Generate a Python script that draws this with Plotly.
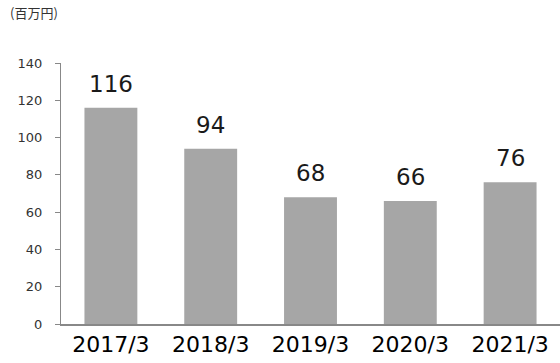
import plotly.graph_objects as go

categories = ["2017/3", "2018/3", "2019/3", "2020/3", "2021/3"]
values = [116, 94, 68, 66, 76]
y_ticks = [0, 20, 40, 60, 80, 100, 120, 140]
unit_label = "(百万円)"

font_family = "DejaVu Sans, Noto Sans CJK JP, sans-serif"

fig = go.Figure(go.Bar(
    x=categories, y=values,
    marker=dict(color="#a6a6a6", line=dict(width=0)),
    hoverinfo="skip",
))

annotations = [dict(
    x=c, y=v, xref="x", yref="y", text=str(v),
    showarrow=False, xanchor="center", yanchor="bottom", yshift=9,
    font=dict(size=23, color="#1a1a1a", family=font_family),
) for c, v in zip(categories, values)]

annotations.append(dict(
    text=unit_label, xref="paper", yref="paper",
    x=-61/499, y=1 + 50/261, xanchor="left", yanchor="middle", xshift=8,
    showarrow=False,
    font=dict(size=13, color="#333333", family="Noto Sans CJK JP, sans-serif"),
))

fig.update_layout(
    width=560, height=363,
    margin=dict(l=61, r=0, t=63, b=39, autoexpand=False),
    paper_bgcolor="white", plot_bgcolor="white",
    bargap=0.47,
    showlegend=False,
    font=dict(family=font_family),
    xaxis=dict(
        showline=True, linecolor="#888888", linewidth=1.5,
        ticks="", showgrid=False, automargin=False,
        tickfont=dict(size=22, color="#000000"),
    ),
    yaxis=dict(
        range=[0, 140], tickvals=y_ticks,
        showline=True, linecolor="#888888", linewidth=1,
        ticks="outside", ticklen=5, tickcolor="#888888",
        showgrid=False, zeroline=False, automargin=False,
        tickfont=dict(size=13, color="#333333"),
        ticklabelstandoff=10,
    ),
    annotations=annotations,
)

fig.write_html("out.html", config={"displayModeBar": False},
               post_script="document.body.style.margin='0';document.body.style.padding='0';")
